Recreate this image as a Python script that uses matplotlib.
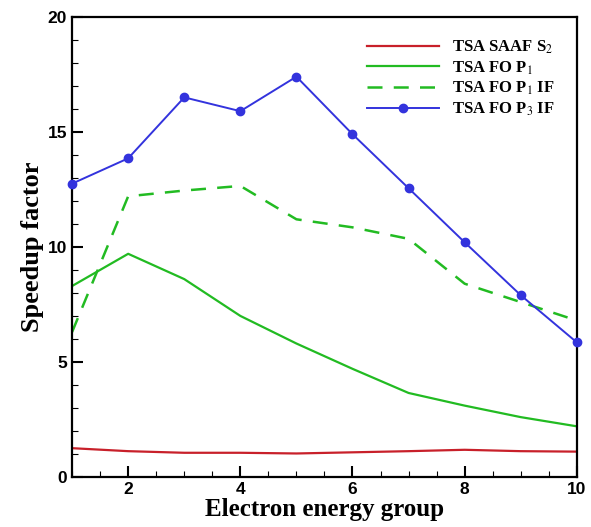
import matplotlib
matplotlib.use("Agg")
import matplotlib.pyplot as plt
from matplotlib.ticker import MultipleLocator

groups = [1, 2, 3, 4, 5, 6, 7, 8, 9, 10]
saaf_s2 = [1.25, 1.12, 1.05, 1.05, 1.02, 1.07, 1.12, 1.18, 1.12, 1.1]
fo_p1 = [8.3, 9.7, 8.6, 7.0, 5.8, 4.7, 3.65, 3.1, 2.6, 2.2]
fo_p1_if = [6.3, 12.2, 12.45, 12.65, 11.2, 10.85, 10.35, 8.4, 7.6, 6.8]
fo_p3_if = [12.75, 13.85, 16.5, 15.9, 17.4, 14.9, 12.55, 10.2, 7.9, 5.85]

plt.rcParams["mathtext.fontset"] = "stix"

fig = plt.figure(figsize=(5.91, 5.27), dpi=100)
ax = fig.add_axes([0.122, 0.095, 0.854, 0.873])

ax.plot(groups, saaf_s2, color="#c8202a", lw=1.6, label=r"TSA SAAF S$_2$")
ax.plot(groups, fo_p1, color="#22bb22", lw=1.6, label=r"TSA FO P$_1$")
ax.plot(groups, fo_p1_if, color="#22bb22", lw=1.8, ls=(0, (6, 4.5)), label=r"TSA FO P$_1$ IF")
ax.plot(groups, fo_p3_if, color="#3333dd", lw=1.4, marker="o", ms=6,
        label=r"TSA FO P$_3$ IF", clip_on=False, zorder=5)

ax.set_xlim(1, 10)
ax.set_ylim(0, 20)
ax.set_xticks([2, 4, 6, 8, 10])
ax.set_yticks([0, 5, 10, 15, 20])
ax.xaxis.set_minor_locator(MultipleLocator(0.5))
ax.yaxis.set_minor_locator(MultipleLocator(1))
ax.tick_params(which="both", direction="in", top=False, right=False)
ax.tick_params(which="major", length=8, width=1.5, labelsize=12.5)
ax.tick_params(which="minor", length=4, width=0.8)
for lbl in ax.get_xticklabels() + ax.get_yticklabels():
    lbl.set_fontweight("bold")
    lbl.set_family("Liberation Sans")
for sp in ax.spines.values():
    sp.set_linewidth(1.6)

ax.set_xlabel("Electron energy group", family="Liberation Serif", fontweight="bold",
              fontsize=18, labelpad=1)
ax.set_ylabel("Speedup factor", family="Liberation Serif", fontweight="bold",
              fontsize=19, labelpad=3)

leg = ax.legend(loc="upper right", frameon=False, handlelength=4.3,
                prop={"family": "Liberation Serif", "weight": "bold", "size": 12},
                labelspacing=0.2, borderaxespad=0.9)

fig.savefig("out.png", dpi=100)
